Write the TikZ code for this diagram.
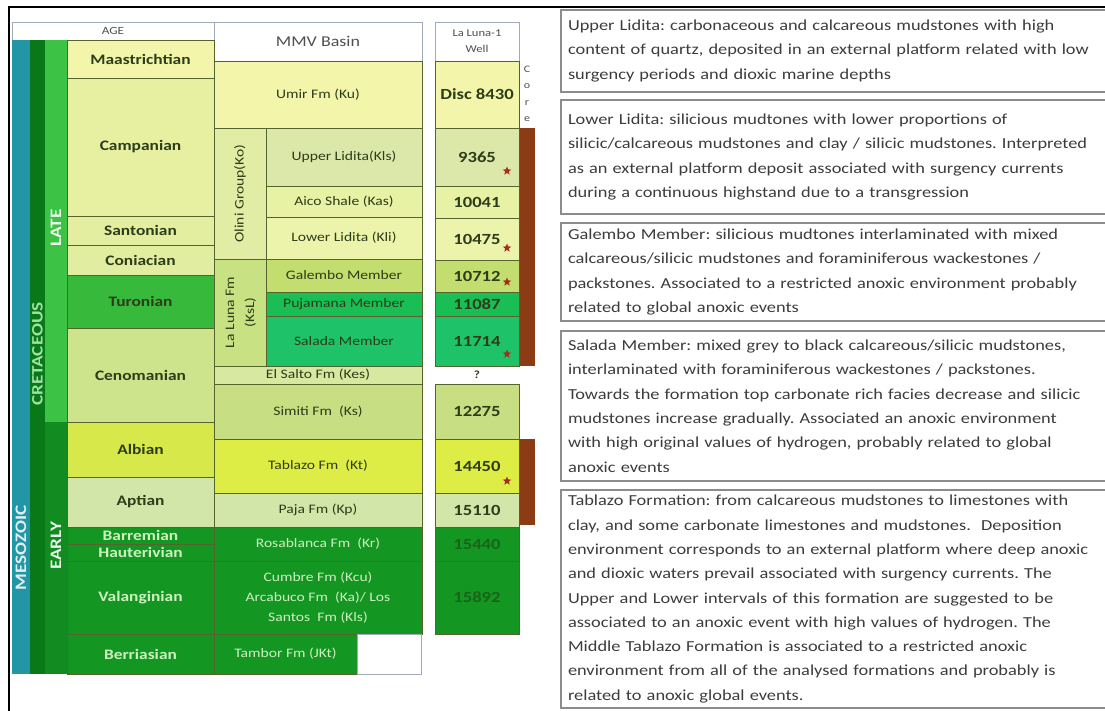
\documentclass[tikz,border=0pt]{standalone}
\usepackage{fontspec}
\setmainfont{Carlito}[FakeStretch=1.2]
\usepackage{tikz}
\usetikzlibrary{positioning}
\usetikzlibrary{shapes.geometric}
\definecolor{meso}{RGB}{35,150,165}
\definecolor{cret}{RGB}{8,120,25}
\definecolor{late}{RGB}{60,195,70}
\definecolor{early}{RGB}{18,140,32}
\definecolor{darkcell}{RGB}{20,150,35}
\definecolor{maasc}{RGB}{243,246,170}
\definecolor{campc}{RGB}{230,240,160}
\definecolor{santc}{RGB}{228,238,160}
\definecolor{conic}{RGB}{225,237,160}
\definecolor{turoc}{RGB}{55,185,60}
\definecolor{cenoc}{RGB}{205,228,140}
\definecolor{albic}{RGB}{215,232,75}
\definecolor{aptic}{RGB}{210,230,170}
\definecolor{umirc}{RGB}{243,246,170}
\definecolor{olinic}{RGB}{225,237,165}
\definecolor{ulidc}{RGB}{220,232,170}
\definecolor{aicoc}{RGB}{232,242,165}
\definecolor{llidc}{RGB}{236,243,170}
\definecolor{lalunac}{RGB}{200,225,130}
\definecolor{galec}{RGB}{195,222,110}
\definecolor{pujac}{RGB}{25,190,85}
\definecolor{salac}{RGB}{30,195,105}
\definecolor{saltoc}{RGB}{215,232,160}
\definecolor{simic}{RGB}{200,222,130}
\definecolor{tablc}{RGB}{222,236,70}
\definecolor{pajac}{RGB}{210,230,170}
\definecolor{cellline}{RGB}{85,100,45}
\definecolor{celltext}{RGB}{45,60,25}
\definecolor{lighttext}{RGB}{205,240,190}
\definecolor{darknum}{RGB}{25,100,25}
\definecolor{headline}{RGB}{160,170,185}
\definecolor{headtext}{RGB}{80,80,80}
\definecolor{corebrown}{RGB}{140,60,20}
\definecolor{starred}{RGB}{165,45,30}
\definecolor{boxline}{RGB}{140,140,140}
\definecolor{desctext}{RGB}{60,60,60}
\tikzset{
  cell/.style={draw=cellline,line width=0.9pt,anchor=north west,inner sep=1pt,outer sep=0pt,align=center,text=celltext},
  wh/.style 2 args={minimum width=#1pt,minimum height=#2pt},
  agecell/.style={cell,font=\bfseries\fontsize{14.5}{15}\selectfont},
  fmcell/.style={cell,font=\fontsize{13}{20}\selectfont},
  wellcell/.style={cell,font=\bfseries\fontsize{15.5}{16}\selectfont},
  headcell/.style={cell,draw=headline,fill=white,text=headtext},
  bartext/.style={rotate=90,inner sep=0pt,font=\bfseries\fontsize{16}{16}\selectfont},
  corebar/.style={anchor=north west,fill=corebrown,inner sep=0pt,outer sep=0pt},
  corestar/.style={shape=star,star points=5,star point ratio=2.3,fill=starred,inner sep=0pt,minimum size=9pt},
  descbox/.style={draw=boxline,line width=1.6pt,anchor=north west,outer sep=0pt,align=left,inner xsep=7pt,text width=546pt,minimum width=560pt,text=desctext,font=\frenchspacing\fontsize{15.3}{24.3}\selectfont}
}
\begin{document}
\begin{tikzpicture}[x=1pt,y=-1pt]
  \useasboundingbox (0,0) rectangle (1105,711);
  \draw[line width=1.2pt] (9,711) -- (9,7) -- (1105,7);

  \node[headcell,wh={202}{18},font=\fontsize{11}{12}\selectfont] (hage) at (12,22) {AGE};
  \node[headcell,wh={208}{39},font=\fontsize{15}{16}\selectfont] (hmmv) at (214,22) {MMV Basin};
  \node[headcell,wh={84}{39},font=\fontsize{10.5}{16}\selectfont] (hwell) at (435,22) {La Luna-1\\Well};

  \node[cell,draw=none,fill=meso,wh={18}{634}] (meso) at (12,40) {};
  \node[cell,draw=none,fill=cret,wh={15}{634}] (cret) at (30,40) {};
  \node[cell,draw=none,fill=late,wh={22}{382}] (late) at (45,40) {};
  \node[cell,draw=none,fill=early,wh={22}{252}] (early) at (45,422) {};
  \node[bartext,text=white!85!meso] (mesolbl) at (21,548) {MESOZOIC};
  \node[bartext,text=late!50!white] (cretlbl) at (37.5,354) {CRETACEOUS};
  \node[bartext,text=white!90!late] (latelbl) at (56,228) {LATE};
  \node[bartext,text=white!90!early] (earlylbl) at (56,546) {EARLY};

  \node[agecell,fill=maasc,wh={147}{38}] (maas) at (67,40) {Maastrichtian};
  \node[agecell,fill=campc,wh={147}{138},below=0pt of maas] (camp) {Campanian};
  \node[agecell,fill=santc,wh={147}{29},below=0pt of camp] (sant) {Santonian};
  \node[agecell,fill=conic,wh={147}{30},below=0pt of sant] (coni) {Coniacian};
  \node[agecell,fill=turoc,wh={147}{53},below=0pt of coni] (turo) {Turonian};
  \node[agecell,fill=cenoc,wh={147}{94},below=0pt of turo] (ceno) {Cenomanian};
  \node[agecell,fill=albic,wh={147}{55},below=0pt of ceno] (albi) {Albian};
  \node[agecell,fill=aptic,wh={147}{50},below=0pt of albi] (apti) {Aptian};
  \node[agecell,fill=darkcell,text=lighttext,wh={147}{17},below=0pt of apti] (barr) {Barremian};
  \node[agecell,fill=darkcell,text=lighttext,wh={147}{17},below=0pt of barr] (haut) {Hauterivian};
  \node[agecell,fill=darkcell,text=lighttext,wh={147}{73},below=0pt of haut] (vala) {Valanginian};
  \node[agecell,fill=darkcell,text=lighttext,wh={147}{40},below=0pt of vala] (berr) {Berriasian};

  \node[fmcell,fill=umirc,wh={208}{67}] (umir) at (214,61) {Umir Fm (Ku)};
  \node[fmcell,fill=olinic,wh={52}{131}] (olini) at (214,128) {\rotatebox{90}{Olini Group(Ko)}};
  \node[fmcell,fill=ulidc,wh={156}{58}] (ulid) at (266,128) {Upper Lidita(Kls)};
  \node[fmcell,fill=aicoc,wh={156}{31},below=0pt of ulid] (aico) {Aico Shale (Kas)};
  \node[fmcell,fill=llidc,wh={156}{42},below=0pt of aico] (llid) {Lower Lidita (Kli)};
  \node[fmcell,fill=lalunac,wh={52}{107}] (laluna) at (214,259) {\rotatebox{90}{\begin{tabular}{@{}c@{}}La Luna Fm\\(KsL)\end{tabular}}};
  \node[fmcell,fill=galec,wh={156}{33},below=0pt of llid] (gale) {Galembo Member};
  \node[fmcell,fill=pujac,wh={156}{24},below=0pt of gale] (puja) {Pujamana Member};
  \node[fmcell,fill=salac,wh={156}{50},below=0pt of puja] (sala) {Salada Member};
  \node[fmcell,fill=saltoc,wh={208}{18}] (salto) at (214,366) {El Salto Fm (Kes)};
  \node[fmcell,fill=simic,wh={208}{55},below=0pt of salto] (simi) {Simiti Fm~~(Ks)};
  \node[fmcell,fill=tablc,wh={208}{54},below=0pt of simi] (tabl) {Tablazo Fm~~(Kt)};
  \node[fmcell,fill=pajac,wh={208}{34},below=0pt of tabl] (paja) {Paja Fm (Kp)};
  \node[fmcell,fill=darkcell,text=lighttext,wh={208}{34},below=0pt of paja] (rosa) {Rosablanca Fm~~(Kr)};
  \node[fmcell,fill=darkcell,text=lighttext,wh={208}{73},below=0pt of rosa] (cumb) {Cumbre Fm (Kcu)\\Arcabuco Fm~~(Ka)/ Los\\Santos~~Fm (Kls)};
  \node[fmcell,fill=darkcell,text=lighttext,wh={143}{40}] (tamb) at (214,634) {Tambor Fm (JKt)};
  \node[headcell,wh={64}{40},right=0pt of tamb] (blank) {};

  \node[wellcell,fill=umirc,wh={84}{67}] (wdisc) at (435,61) {Disc 8430};
  \node[wellcell,fill=ulidc,wh={84}{58},below=0pt of wdisc] (w9365) {9365};
  \node[wellcell,fill=aicoc,wh={84}{32},below=0pt of w9365] (w10041) {10041};
  \node[wellcell,fill=llidc,wh={84}{42},below=0pt of w10041] (w10475) {10475};
  \node[wellcell,fill=galec,wh={84}{32},below=0pt of w10475] (w10712) {10712};
  \node[wellcell,fill=pujac,wh={84}{24},below=0pt of w10712] (w11087) {11087};
  \node[wellcell,fill=salac,wh={84}{50},below=0pt of w11087] (w11714) {11714};
  \node[wellcell,draw=none,wh={84}{18},font=\bfseries\fontsize{11}{12}\selectfont,below=0pt of w11714] (wq) {?};
  \node[wellcell,fill=simic,wh={84}{55},below=0pt of wq] (w12275) {12275};
  \node[wellcell,fill=tablc,wh={84}{54},below=0pt of w12275] (w14450) {14450};
  \node[wellcell,fill=pajac,wh={84}{34},below=0pt of w14450] (w15110) {15110};
  \node[wellcell,fill=darkcell,text=darknum,wh={84}{34},below=0pt of w15110] (w15440) {15440};
  \node[wellcell,fill=darkcell,text=darknum,wh={84}{73},below=0pt of w15440] (w15892) {15892};

  \node[corebar,wh={15}{238}] (core1) at (520,128) {};
  \node[corebar,wh={15}{86}] (core2) at (520,439) {};
  \node[align=center,inner sep=0pt,text=headtext,font=\fontsize{10}{16.5}\selectfont] (corelbl) at (527,94) {C\\o\\r\\e};

  \node[corestar] (st1) at (507,171) {};
  \node[corestar] (st2) at (507,248) {};
  \node[corestar] (st3) at (507,282) {};
  \node[corestar] (st4) at (507,354) {};
  \node[corestar] (st5) at (507,481) {};

  \node[descbox,minimum height=82pt] (dlid1) at (561,10) {Upper Lidita: carbonaceous and calcareous mudstones with high\\content of quartz, deposited in an external platform related with low\\surgency periods and dioxic marine depths};
  \node[descbox,minimum height=114pt,below=8pt of dlid1] (dlid2) {Lower Lidita: silicious mudtones with lower proportions of\\silicic/calcareous mudstones and clay / silicic mudstones. Interpreted\\as an external platform deposit associated with surgency currents\\during a continuous highstand due to a transgression};
  \node[descbox,minimum height=98pt,below=9pt of dlid2] (dgale) {Galembo Member: silicious mudtones interlaminated with mixed\\calcareous/silicic mudstones and foraminiferous wackestones /\\packstones. Associated to a restricted anoxic environment probably\\related to global anoxic events};
  \node[descbox,minimum height=150pt,below=10pt of dgale] (dsala) {Salada Member: mixed grey to black calcareous/silicic mudstones,\\interlaminated with foraminiferous wackestones / packstones.\\Towards the formation top carbonate rich facies decrease and silicic\\mudstones increase gradually. Associated an anoxic environment\\with high original values of hydrogen, probably related to global\\anoxic events};
  \node[descbox,minimum height=218pt,below=9pt of dsala] (dtabl) {Tablazo Formation: from calcareous mudstones to limestones with\\clay, and some carbonate limestones and mudstones.~~Deposition\\environment corresponds to an external platform where deep anoxic\\and dioxic waters prevail associated with surgency currents. The\\Upper and Lower intervals of this formation are suggested to be\\associated to an anoxic event with high values of hydrogen. The\\Middle Tablazo Formation is associated to a restricted anoxic\\environment from all of the analysed formations and probably is\\related to anoxic global events.};
\end{tikzpicture}
\end{document}
